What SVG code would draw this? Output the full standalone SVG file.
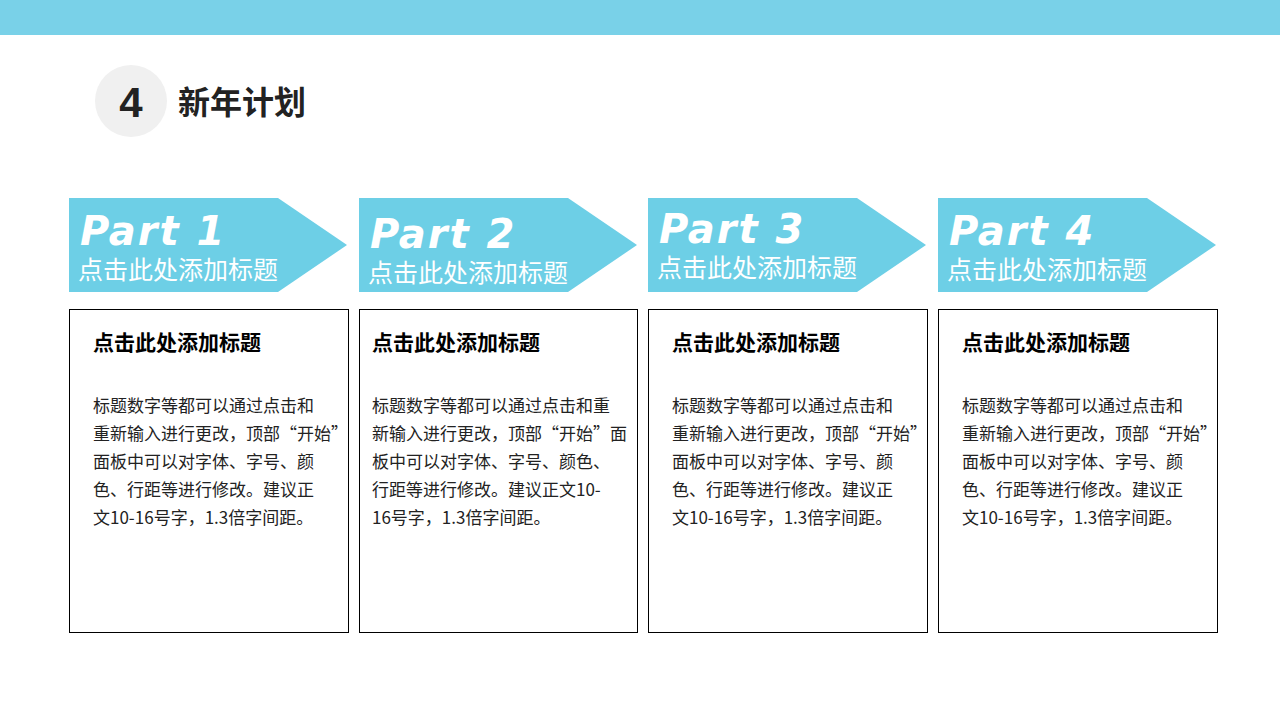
<svg xmlns="http://www.w3.org/2000/svg" width="1280" height="720" viewBox="0 0 1280 720">
<style>
.ar{fill:#6dcfe6}
.pt{font-family:"DejaVu Sans",sans-serif;font-style:italic;font-weight:bold;font-size:40px;fill:#fff;letter-spacing:2px}
.sb{font-family:"Noto Sans CJK SC",sans-serif;font-size:25px;fill:#fff}
.bx{fill:#fff;stroke:#000;stroke-width:1}
.bt{font-family:"Noto Sans CJK SC",sans-serif;font-weight:bold;font-size:21px;fill:#000}
.bd{font-family:"Noto Sans CJK SC",sans-serif;font-size:17px;fill:#222}
</style>
<rect width="1280" height="720" fill="#fff"/>
<rect width="1280" height="35" fill="#79d1e8"/>
<g id="header">
<circle cx="131" cy="101" r="36" fill="#f0f0f0"/>
<text x="131" y="117" text-anchor="middle" font-family="Liberation Sans,sans-serif" font-weight="bold" font-size="42" fill="#222">4</text>
<text x="178" y="114" font-family="Noto Sans CJK SC,sans-serif" font-weight="bold" font-size="32" fill="#222">新年计划</text>
</g>
<g id="part1">
<polygon class="ar" points="69,198 278,198 347,245 278,292 69,292"/>
<text class="pt" x="80" y="245">Part 1</text>
<text class="sb" x="78" y="279">点击此处添加标题</text>
<rect class="bx" x="69.5" y="309.5" width="279" height="323"/>
<text class="bt" x="93" y="350">点击此处添加标题</text>
<text class="bd"><tspan x="93" y="412">标题数字等都可以通过点击和</tspan><tspan x="93" y="440">重新输入进行更改，顶部“开始”</tspan><tspan x="93" y="468">面板中可以对字体、字号、颜</tspan><tspan x="93" y="496">色、行距等进行修改。建议正</tspan><tspan x="93" y="524">文10-16号字，1.3倍字间距。</tspan></text>
</g>
<g id="part2">
<polygon class="ar" points="359,198 568,198 637,245 568,292 359,292"/>
<text class="pt" x="370" y="248">Part 2</text>
<text class="sb" x="368" y="282">点击此处添加标题</text>
<rect class="bx" x="359.5" y="309.5" width="278" height="323"/>
<text class="bt" x="372" y="350">点击此处添加标题</text>
<text class="bd"><tspan x="372" y="412">标题数字等都可以通过点击和重</tspan><tspan x="372" y="440">新输入进行更改，顶部“开始”面</tspan><tspan x="372" y="468">板中可以对字体、字号、颜色、</tspan><tspan x="372" y="496">行距等进行修改。建议正文10-</tspan><tspan x="372" y="524">16号字，1.3倍字间距。</tspan></text>
</g>
<g id="part3">
<polygon class="ar" points="648,198 857,198 926,245 857,292 648,292"/>
<text class="pt" x="659" y="243">Part 3</text>
<text class="sb" x="657" y="277">点击此处添加标题</text>
<rect class="bx" x="648.5" y="309.5" width="279" height="323"/>
<text class="bt" x="672" y="350">点击此处添加标题</text>
<text class="bd"><tspan x="672" y="412">标题数字等都可以通过点击和</tspan><tspan x="672" y="440">重新输入进行更改，顶部“开始”</tspan><tspan x="672" y="468">面板中可以对字体、字号、颜</tspan><tspan x="672" y="496">色、行距等进行修改。建议正</tspan><tspan x="672" y="524">文10-16号字，1.3倍字间距。</tspan></text>
</g>
<g id="part4">
<polygon class="ar" points="938,198 1147,198 1216,245 1147,292 938,292"/>
<text class="pt" x="949" y="245">Part 4</text>
<text class="sb" x="947" y="279">点击此处添加标题</text>
<rect class="bx" x="938.5" y="309.5" width="279" height="323"/>
<text class="bt" x="962" y="350">点击此处添加标题</text>
<text class="bd"><tspan x="962" y="412">标题数字等都可以通过点击和</tspan><tspan x="962" y="440">重新输入进行更改，顶部“开始”</tspan><tspan x="962" y="468">面板中可以对字体、字号、颜</tspan><tspan x="962" y="496">色、行距等进行修改。建议正</tspan><tspan x="962" y="524">文10-16号字，1.3倍字间距。</tspan></text>
</g>
<g id="connectors"/>
</svg>
